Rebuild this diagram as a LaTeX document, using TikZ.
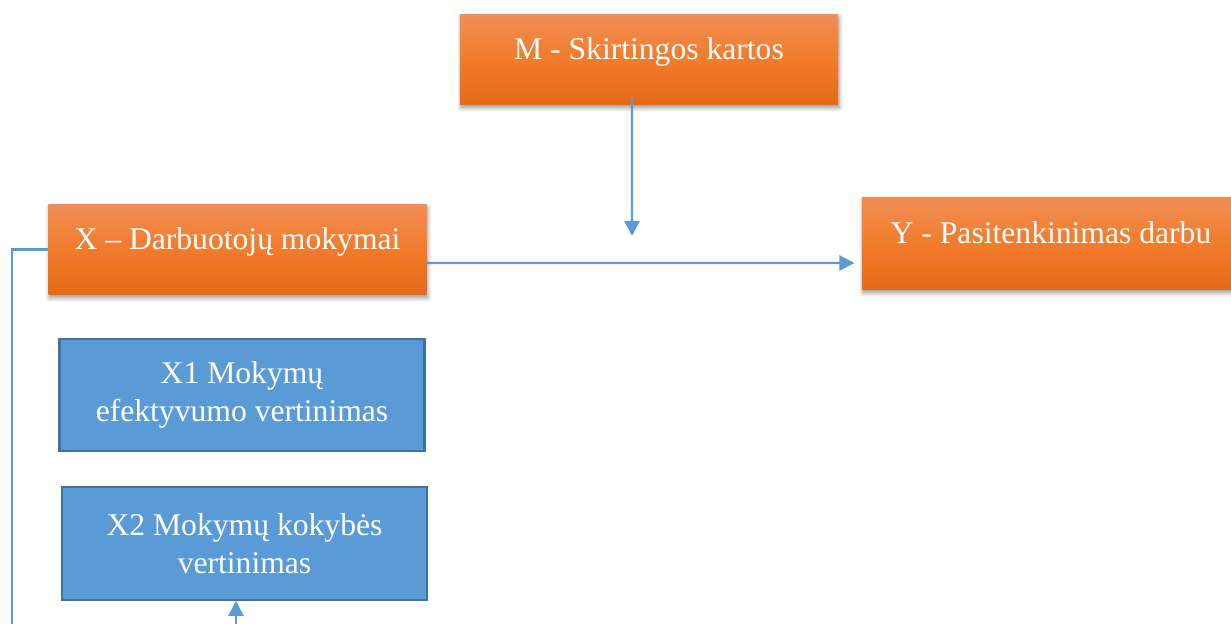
\documentclass[tikz,border=0pt]{standalone}
\usepackage{fontspec}
\setmainfont{Liberation Serif}
\usepackage{xcolor}
\usepackage{tikz}
\usetikzlibrary{arrows.meta,shadows,shadows.blur,calc}
\definecolor{orangetop}{HTML}{F18E56}
\definecolor{orangemid}{HTML}{F17C2B}
\definecolor{orangebot}{HTML}{E46A19}
\definecolor{boxblue}{HTML}{5B9BD5}
\definecolor{boxline}{HTML}{41719C}

\begin{document}
\begin{tikzpicture}[x=0.02cm, y=-0.02cm, font=\fontsize{18}{21.6}\selectfont,
    var/.style={rectangle, top color=orangetop, bottom color=orangebot, middle color=orangemid, text=white, minimum width=7.57cm, minimum height=1.82cm, text height=0.42cm, text depth=0.42cm, blur shadow={shadow xshift=0.02cm, shadow yshift=-0.06cm, shadow blur steps=6, shadow blur radius=0.08cm, shadow opacity=40}},
    dim/.style={rectangle, draw=boxline, line width=1.2pt, fill=boxblue, text=white, align=center, minimum width=7.3cm, minimum height=2.25cm},
    link/.style={draw=boxblue, line width=1.3pt},
    arr/.style={link, -{Triangle[width=0.3cm, length=0.3cm]}}]
    \useasboundingbox (0,0) rectangle (1231,624);

    \node (M) [var] at (649,59.5) {M - Skirtingos kartos};
    \node (X) [var] at (237.5,249.5) {X – Darbuotojų mokymai};
    \node (Y) [var, minimum height=1.86cm] at (1051,243.5) {Y - Pasitenkinimas darbu};
    \node (X1) [dim] at (242,395) {X1 Mokymų\\efektyvumo vertinimas};
    \node (X2) [dim] at (244.5,543.5) {X2 Mokymų kokybės\\vertinimas};

    \coordinate (mend) at (632,236);
    \coordinate (lbot) at (12,624);
    \coordinate (ubot) at (236,624);

    \draw [arr] ([xshift=-0.34cm, yshift=0.16cm]M.south) -- (mend);
    \draw [arr] ([yshift=-0.27cm]X.east) -- ([xshift=-0.14cm, yshift=-0.39cm]Y.west);
    \draw [link] (X.west) -| (lbot);
    \draw [arr] (ubot) -- (ubot |- X2.south);
\end{tikzpicture}
\end{document}
